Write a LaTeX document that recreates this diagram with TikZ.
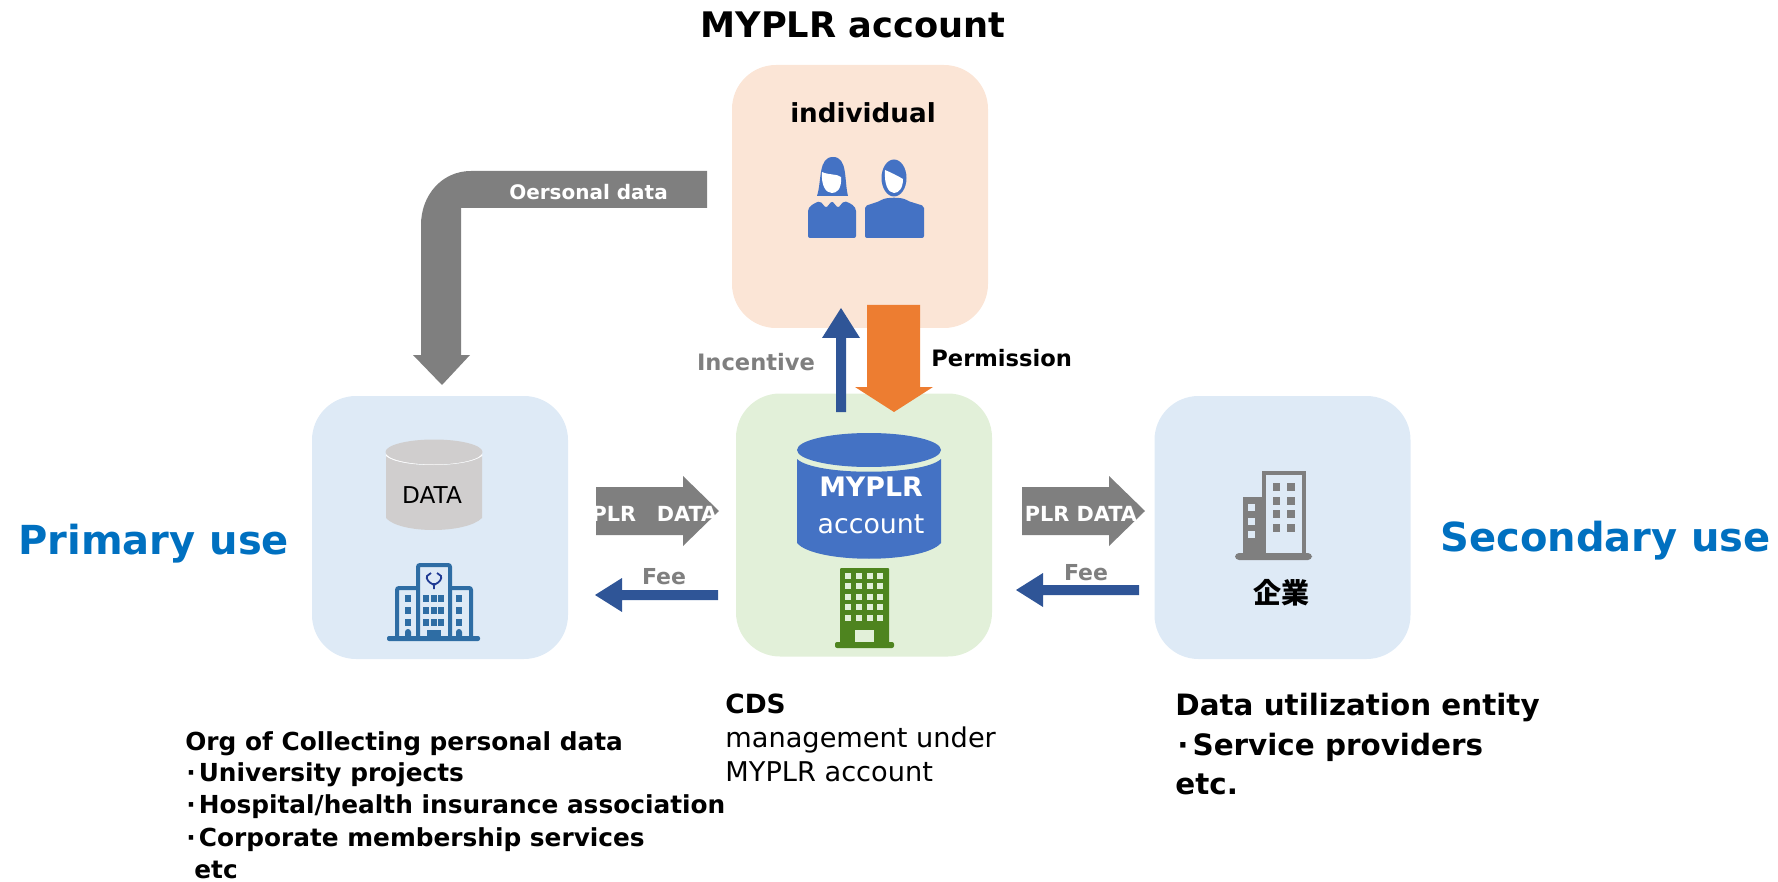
\documentclass[tikz,border=0pt]{standalone}
\usepackage{fontspec}
\setmainfont{DejaVu Sans}
\newfontfamily\cjk{Noto Sans CJK JP}
\definecolor{peach}{HTML}{FBE5D6}
\definecolor{paleblue}{HTML}{DEEAF6}
\definecolor{palegreen}{HTML}{E2F0D9}
\definecolor{dbblue}{HTML}{4472C4}
\definecolor{navy}{HTML}{2F5597}
\definecolor{orange}{HTML}{ED7D31}
\definecolor{midgray}{HTML}{7F7F7F}
\definecolor{dbgray}{HTML}{D0CECE}
\definecolor{bldgreen}{HTML}{4E841F}
\definecolor{bldblue}{HTML}{2E6DA4}
\definecolor{logoblue}{HTML}{1F3A93}
\definecolor{useblue}{HTML}{0070C0}
\tikzset{
  panel/.style={rectangle,rounded corners=22pt,inner sep=0pt,minimum width=128pt,minimum height=131.5pt},
  lbl/.style={inner sep=0pt,anchor=base west},
  ctr/.style={inner sep=0pt,anchor=center},
  hd/.style={font=\fontsize{11.3}{14}\selectfont\bfseries},
  arrowtxt/.style={font=\fontsize{10.4}{13}\selectfont\bfseries},
  bodytxt/.style={font=\fontsize{12.4}{15}\selectfont\bfseries},
  bigtxt/.style={font=\fontsize{14.7}{19}\selectfont\bfseries},
  nm/.style={font=\fontsize{13.6}{15}\selectfont},
  usetxt/.style={text=useblue,font=\fontsize{20}{25}\selectfont\bfseries},
}
\begin{document}
\begin{tikzpicture}[x=0.5pt,y=-0.5pt]
\useasboundingbox (0,0) rectangle (1778,882);
% panels
\node[panel,fill=peach] (individual) at (860,196.5) {};
\node[panel,fill=paleblue] (primary) at (440,527.5) {};
\node[panel,fill=palegreen] (cds) at (864,525) {};
\node[panel,fill=paleblue] (secondary) at (1282.5,527.5) {};
% title
\node[ctr,font=\fontsize{17.6}{22}\selectfont\bfseries] (title) at (853,25) {MYPLR account};
\node[ctr,font=\fontsize{13.1}{16}\selectfont\bfseries] (indlabel) at (863,113) {individual};
% people
\fill[dbblue] (817,196) .. controls (822,180) and (818,157) .. (833,157) .. controls (848,157) and (844,180) .. (848,196) -- cycle;
\fill[white] (822,172) .. controls (828,175) and (838,174) .. (841,177) .. controls (842,190) and (836,193) .. (832,193) .. controls (826,193) and (821,186) .. (822,172) -- cycle;
\fill[dbblue,rounded corners=1pt] (808,238) -- (808,213) .. controls (808,206) and (815,203) .. (820,201) -- (826,208) -- (832,201) -- (838,208) -- (844,201) .. controls (850,203) and (856,206) .. (856,213) -- (856,238) -- cycle;
\fill[dbblue] (894,178) ellipse (12.5 and 18.5);
\fill[white] (885,170) .. controls (890,172) and (898,176) .. (903,179) .. controls (903,188) and (899,193) .. (894,193) .. controls (888,193) and (884,184) .. (885,170) -- cycle;
\fill[dbblue,rounded corners=1pt] (865,238) -- (865,206) -- (880,201) .. controls (886,197) and (902,197) .. (908,201) -- (924,206) -- (924,238) -- cycle;
% incentive & permission arrows
\coordinate (incb) at (841,412);
\coordinate (inct) at (841,308);
\fill[navy] (incb)++(-5,0) -- (836,338) -- (822,338) -- (inct) -- (860,338) -- (846,338) -- (846,412) -- cycle;
\coordinate (perm) at (894,412);
\fill[orange] (867,305) -- (920,305) -- (920,387) -- (933,387) -- (perm) -- (855,387) -- (867,387) -- cycle;
\node[ctr,hd,text=midgray] (incentive) at (756,362) {Incentive};
\node[lbl,hd] (permission) at (931,366) {Permission};
% personal data bent arrow
\coordinate (ptip) at (442,385);
\fill[midgray] (707,171) -- (471,171) .. controls (442,171) and (421,195) .. (421,225) -- (421,355) -- (413,355) -- (ptip) -- (470,355) -- (461,355) -- (461,208) -- (707,208) -- cycle;
\node[ctr,font=\fontsize{10}{13}\selectfont\bfseries,text=white] (personal) at (588.5,192) {Oersonal data};
% left database
\fill[dbgray] (386,456) .. controls (400,468) and (466,468) .. (482,456) -- (482,518) .. controls (466,534) and (400,534) .. (386,518) -- cycle;
\fill[white] (386,452) rectangle (482,456);
\fill[white] (386,456) .. controls (400,468) and (466,468) .. (482,456) -- (482,454) .. controls (466,463) and (400,463) .. (386,454) -- cycle;
\fill[dbgray] (434,452) ellipse (48.5 and 12.5);
\node[ctr,font=\fontsize{11.6}{13}\selectfont] (data) at (432,495) {DATA};
% hospital
\begin{scope}[bldblue]
\fill[bldblue,rounded corners=1pt] (387,636) rectangle (480,641);
\draw[bldblue,line width=2pt,rounded corners=1pt] (397,637) -- (397,588) -- (417,588) (471,637) -- (471,588) -- (451,588);
\draw[bldblue,line width=2pt,rounded corners=1pt] (418,637) -- (418,565) -- (450,565) -- (450,637);
\foreach \yy in {598,610,622}{
  \fill[bldblue] (405,\yy-3) rectangle ++(6,7);
  \fill[bldblue] (456,\yy-3) rectangle ++(6,7);
  \fill[bldblue] (423,\yy-3) rectangle ++(6,7);
  \fill[bldblue] (431,\yy-3) rectangle ++(6,7);
  \fill[bldblue] (438,\yy-3) rectangle ++(6,7);
}
\fill[bldblue] (427,630) rectangle (441,637);
\fill[bldblue] (405,637) -- (405,632) arc (180:360:3) -- (411,637) -- cycle;
\fill[bldblue] (456,637) -- (456,632) arc (180:360:3) -- (462,637) -- cycle;
\end{scope}
\draw[logoblue,line width=0.9pt] (434,589) -- (434,583) (434,585) .. controls (428,582) and (426,579) .. (427,576) -- (431,573) (434,585) .. controls (440,582) and (442,579) .. (441,576) -- (437,573);
% center database
\fill[dbblue] (797,459) .. controls (815,476) and (923,476) .. (941,459) -- (941,543) .. controls (923,564) and (815,564) .. (797,543) -- cycle;
\fill[dbblue] (869,450) ellipse (72 and 17);
\node[ctr,font=\fontsize{13.4}{17}\selectfont\bfseries,text=white] (myplr) at (871,487) {MYPLR};
\node[ctr,font=\fontsize{13.4}{17}\selectfont,text=white] (account) at (871,524) {account};
% green building
\fill[bldgreen,rounded corners=0.5pt] (840,568) rectangle (889,645);
\fill[bldgreen,rounded corners=1pt] (835,642) rectangle (894,648);
\foreach \yy in {576,586,597,607,618}\foreach \xx in {845,856,867,877}
  \fill[palegreen] (\xx,\yy-3) rectangle ++(6,6);
\fill[palegreen] (855,630) rectangle (874,642);
% left data arrow
\coordinate (ldtip) at (719,511);
\fill[midgray] (596,487) -- (683,487) -- (683,476) -- (ldtip) -- (683,546) -- (683,535) -- (596,535) -- cycle;
\node[ctr,arrowtxt,text=white] (plrl) at (614,514) {PLR};
\node[ctr,arrowtxt,text=white] (datal) at (687,514) {DATA};
% left fee
\coordinate (lftip) at (595,595);
\fill[navy] (718,590) -- (622,590) -- (622,578) -- (lftip) -- (622,612) -- (622,600) -- (718,600) -- cycle;
\node[ctr,font=\fontsize{11}{14}\selectfont\bfseries,text=midgray] (feel) at (664,577) {Fee};
% right data arrow
\coordinate (rdtip) at (1145,511);
\fill[midgray] (1022,487) -- (1109,487) -- (1109,476) -- (rdtip) -- (1109,546) -- (1109,535) -- (1022,535) -- cycle;
\node[ctr,arrowtxt,text=white] (plrr) at (1081,514) {PLR DATA};
% right fee
\coordinate (rftip) at (1016,590);
\fill[navy] (1139,585) -- (1043,585) -- (1043,573) -- (rftip) -- (1043,607) -- (1043,595) -- (1139,595) -- cycle;
\node[ctr,font=\fontsize{11}{14}\selectfont\bfseries,text=midgray] (feer) at (1086,573) {Fee};
% gray building
\fill[midgray,rounded corners=2pt] (1235,553) rectangle (1312,560);
\draw[midgray,line width=2pt] (1264,555) -- (1264,473) -- (1304,473) -- (1304,555);
\fill[midgray] (1243,555) -- (1243,497) -- (1264,497) -- (1264,555) -- cycle;
\foreach \yy in {507,521,534} \fill[paleblue] (1248,\yy-3) rectangle ++(7,7);
\foreach \yy in {487,501,514,528}{
  \fill[midgray] (1273,\yy-4) rectangle ++(7,8);
  \fill[midgray] (1287,\yy-4) rectangle ++(8,8);
}
\node[ctr,font=\cjk\fontsize{14}{15}\selectfont\bfseries] (kigyo) at (1281,593) {企業};
% big labels
\node[lbl,usetxt] (primuse) at (18,554) {Primary use};
\node[lbl,usetxt] (secuse) at (1440,551) {Secondary use};
% cds text
\node[lbl,font=\fontsize{13.2}{15}\selectfont\bfseries] (cdst) at (725,713) {CDS};
\node[lbl,nm] (mgmt) at (725,747) {management under};
\node[lbl,nm] (myacc) at (725,781) {MYPLR account};
% right text
\node[lbl,bigtxt] (entity) at (1175,715) {Data utilization entity};
\node[lbl,bigtxt] (svc) at (1177,755) {·\kern2pt Service providers};
\node[lbl,bigtxt] (etcr) at (1175,794) {etc.};
% left text
\node[lbl,bodytxt] (org) at (185,750) {Org of Collecting personal data};
\node[lbl,bodytxt] (univ) at (186,781) {·\kern1.5pt University projects};
\node[lbl,bodytxt] (hosp) at (186,813) {·\kern1.5pt Hospital/health insurance association};
\node[lbl,bodytxt] (corp) at (186,846) {·\kern1.5pt Corporate membership services};
\node[lbl,bodytxt] (etcl) at (194,878) {etc};
\end{tikzpicture}
\end{document}
